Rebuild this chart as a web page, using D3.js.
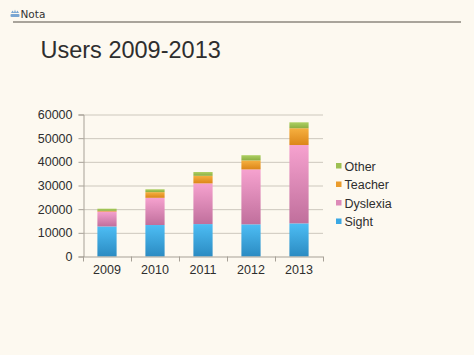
<!DOCTYPE html>
<html><head><meta charset="utf-8">
<script src="https://cdn.jsdelivr.net/npm/d3@7"></script>
<style>
html,body{margin:0;padding:0;background:#fdf9f0;}
svg{display:block;}
text{font-family:"Liberation Sans",Arial,Helvetica,sans-serif;}
</style></head>
<body>
<script>
const years = ["2009","2010","2011","2012","2013"];
const seriesNames = ["Sight","Dyslexia","Teacher","Other"];
const sight    = [12700, 13300, 13700, 13600, 14000];
const dyslexia = [6300, 11500, 17200, 23200, 33100];
const teacher  = [300, 2400, 3200, 3800, 7100];
const other    = [900, 1200, 1600, 2200, 2500];
const yTicks = [0,10000,20000,30000,40000,50000,60000];

const W = 474, H = 355;
const svg = d3.select("body").append("svg").attr("width", W).attr("height", H);
svg.append("rect").attr("width", W).attr("height", H).attr("fill", "#fdf9f0");

const defs = svg.append("defs");
const grads = [
  {id:"gSight", top:"#4dbdf4", bot:"#2b8bc2"},
  {id:"gDys", top:"#f6a2cf", bot:"#c06f9c"},
  {id:"gTeach", top:"#f6b040", bot:"#dc8619"},
  {id:"gOther", top:"#add062", bot:"#8cae42"}
];
grads.forEach(g => {
  const lg = defs.append("linearGradient").attr("id", g.id).attr("x1",0).attr("y1",0).attr("x2",0).attr("y2",1);
  lg.append("stop").attr("offset","0%").attr("stop-color", g.top);
  lg.append("stop").attr("offset","100%").attr("stop-color", g.bot);
});
const legendColors = ["#3aa8e4","#dd8ab8","#eb9c2c","#9dc052"];

// header
svg.append("line").attr("x1",13).attr("x2",461).attr("y1",22).attr("y2",22)
  .attr("stroke","#8c877f").attr("stroke-width",1.5);
const logo = svg.append("g").attr("transform","translate(10,9)");
logo.append("path").attr("d","M1,4 L2.5,1.5 L4,3.5 L5,0.5 L6,3.5 L7.5,1.5 L9,4 Z").attr("fill","#7aa6d2");
logo.append("rect").attr("x",0.5).attr("y",5).attr("width",9).attr("height",3).attr("rx",1).attr("fill","#7aa6d2");
svg.append("text").attr("x",20.5).attr("y",17.5).attr("font-size",10.5).attr("fill","#333")
  .style("font-family","'DejaVu Sans',sans-serif").text("Nota");

// title
svg.append("text").attr("x",40.5).attr("y",57.5).attr("font-size",23.5).attr("fill","#2e2e2e").text("Users 2009-2013");

const x0 = 83, x1 = 323, y0 = 256.5, y1 = 114.5;
const x = d3.scaleBand().domain(years).range([x0, x1]).paddingInner(0.6).paddingOuter(0.3);
const y = d3.scaleLinear().domain([0, 60000]).range([y0, y1]);

// gridlines
svg.append("g").selectAll("line").data(yTicks.filter(d=>d>0)).join("line")
  .attr("x1", x0).attr("x2", x1).attr("y1", d=>y(d)+0.5).attr("y2", d=>y(d)+0.5)
  .attr("stroke","#cdc8bd").attr("stroke-width",1);

// y axis
const yAxis = svg.append("g").attr("transform",`translate(${x0+0.5},0)`)
  .call(d3.axisLeft(y).tickValues(yTicks).tickSize(5).tickPadding(6).tickFormat(d3.format("d")));
yAxis.select(".domain").attr("stroke","#a7a197");
yAxis.selectAll(".tick line").attr("stroke","#a7a197");
yAxis.selectAll(".tick text").attr("font-size",12.5).attr("fill","#2e2e2e")
  .style("font-family","'Liberation Sans',Arial,sans-serif");

// stacked data
const table = years.map((yr,i)=>({year:yr, Sight:sight[i], Dyslexia:dyslexia[i], Teacher:teacher[i], Other:other[i]}));
const stack = d3.stack().keys(seriesNames)(table);
const gradIds = ["gSight","gDys","gTeach","gOther"];
svg.append("g").selectAll("g").data(stack).join("g")
  .attr("fill",(d,i)=>`url(#${gradIds[i]})`)
  .selectAll("rect").data(d=>d).join("rect")
  .attr("x", d=>x(d.data.year))
  .attr("width", x.bandwidth())
  .attr("y", d=>y(d[1]))
  .attr("height", d=>y(d[0])-y(d[1]));

// x axis
const bounds = d3.range(years.length+1).map(i => x0 + i*(x1-x0)/years.length);
const xg = svg.append("g");
xg.append("line").attr("x1",x0).attr("x2",x1).attr("y1",y0+0.5).attr("y2",y0+0.5).attr("stroke","#a7a197");
xg.selectAll("line.t").data(bounds).join("line").attr("class","t")
  .attr("x1",d=>Math.round(d)+0.5).attr("x2",d=>Math.round(d)+0.5).attr("y1",y0).attr("y2",y0+5).attr("stroke","#a7a197");
const xAxis = svg.append("g").attr("transform",`translate(0,${y0})`)
  .call(d3.axisBottom(x).tickSize(0).tickPadding(9));
xAxis.select(".domain").remove();
xAxis.selectAll(".tick text").attr("font-size",12.5).attr("fill","#2e2e2e")
  .style("font-family","'Liberation Sans',Arial,sans-serif");

// legend
const legOrder = [3,2,1,0];
const leg = svg.append("g");
legOrder.forEach((si,k)=>{
  const cy = 166 + k*18.5;
  leg.append("rect").attr("x",336).attr("y",cy-3).attr("width",5.5).attr("height",5.5).attr("fill",legendColors[si]);
  leg.append("text").attr("x",344.5).attr("y",cy+4.5).attr("font-size",12.5).attr("fill","#2e2e2e").text(seriesNames[si]);
});
</script>
</body></html>
